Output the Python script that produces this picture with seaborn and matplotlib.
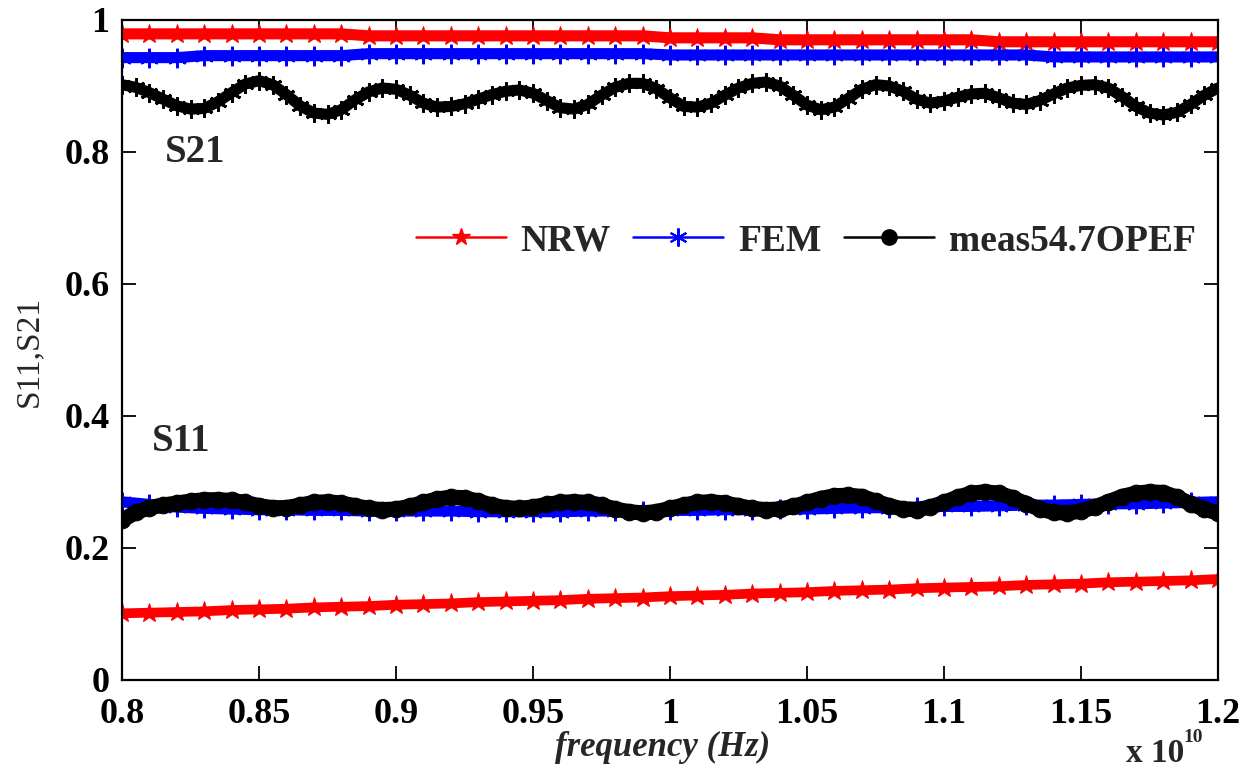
import numpy as np
import matplotlib
matplotlib.use("Agg")
import matplotlib.pyplot as plt
import seaborn as sns
from matplotlib.lines import Line2D

# Frequency sweeps, in units of 1e10 Hz
freq_fine = np.linspace(0.80, 1.20, 81)
freq_coarse = np.linspace(0.80, 1.20, 41)

# Transmission (S21)
s21_nrw = [0.979, 0.979, 0.979, 0.979, 0.979, 0.979, 0.979, 0.979, 0.979, 0.976,
           0.976, 0.976, 0.976, 0.976, 0.976, 0.976, 0.976, 0.976, 0.976, 0.976,
           0.973, 0.973, 0.973, 0.973, 0.970, 0.970, 0.970, 0.970, 0.970, 0.970,
           0.970, 0.970, 0.967, 0.967, 0.967, 0.967, 0.967, 0.967, 0.967, 0.967,
           0.967]
s21_fem = [0.943, 0.943, 0.943, 0.946, 0.946, 0.946, 0.946, 0.946, 0.946, 0.949,
           0.949, 0.949, 0.949, 0.949, 0.949, 0.949, 0.949, 0.949, 0.949, 0.949,
           0.947, 0.947, 0.947, 0.947, 0.947, 0.947, 0.947, 0.947, 0.947, 0.947,
           0.947, 0.947, 0.947, 0.947, 0.944, 0.944, 0.944, 0.944, 0.944, 0.944,
           0.944]
s21_meas = [0.902, 0.898, 0.890, 0.880, 0.870, 0.865, 0.866, 0.876, 0.890, 0.903,
            0.908, 0.902, 0.887, 0.870, 0.859, 0.857, 0.864, 0.879, 0.891, 0.897,
            0.895, 0.886, 0.874, 0.868, 0.869, 0.873, 0.880, 0.887, 0.892, 0.894,
            0.889, 0.878, 0.867, 0.865, 0.872, 0.886, 0.898, 0.904, 0.904, 0.896,
            0.882, 0.869, 0.868, 0.874, 0.886, 0.897, 0.904, 0.906, 0.900, 0.886,
            0.871, 0.864, 0.868, 0.881, 0.895, 0.902, 0.900, 0.892, 0.880, 0.874,
            0.877, 0.883, 0.888, 0.889, 0.882, 0.874, 0.872, 0.878, 0.888, 0.897,
            0.901, 0.902, 0.897, 0.884, 0.869, 0.859, 0.856, 0.860, 0.872, 0.886,
            0.897]

# Reflection (S11)
s11_nrw = [0.101, 0.102, 0.103, 0.104, 0.106, 0.107, 0.108, 0.110, 0.111, 0.112,
           0.114, 0.115, 0.116, 0.118, 0.119, 0.120, 0.121, 0.123, 0.124, 0.125,
           0.127, 0.128, 0.129, 0.131, 0.132, 0.133, 0.135, 0.136, 0.137, 0.139,
           0.140, 0.141, 0.142, 0.144, 0.145, 0.146, 0.148, 0.149, 0.150, 0.151,
           0.153]
s11_fem = [0.270, 0.266, 0.262, 0.260, 0.259, 0.258, 0.258, 0.257, 0.257, 0.256,
           0.256, 0.256, 0.256, 0.255, 0.255, 0.255, 0.255, 0.256, 0.256, 0.256,
           0.257, 0.257, 0.258, 0.258, 0.259, 0.259, 0.260, 0.261, 0.261, 0.262,
           0.263, 0.263, 0.264, 0.265, 0.265, 0.266, 0.267, 0.267, 0.268, 0.269,
           0.270]
s11_meas = [0.242, 0.254, 0.261, 0.265, 0.268, 0.271, 0.273, 0.273, 0.272, 0.269,
            0.264, 0.261, 0.261, 0.265, 0.269, 0.270, 0.268, 0.264, 0.260, 0.258,
            0.259, 0.263, 0.269, 0.274, 0.277, 0.276, 0.271, 0.265, 0.261, 0.260,
            0.262, 0.266, 0.269, 0.270, 0.269, 0.265, 0.259, 0.255, 0.253, 0.255,
            0.260, 0.265, 0.269, 0.270, 0.268, 0.264, 0.260, 0.258, 0.259, 0.263,
            0.269, 0.275, 0.279, 0.280, 0.278, 0.271, 0.264, 0.259, 0.258, 0.262,
            0.269, 0.277, 0.283, 0.285, 0.283, 0.276, 0.267, 0.259, 0.254, 0.253,
            0.256, 0.262, 0.270, 0.278, 0.283, 0.285, 0.284, 0.277, 0.267, 0.259,
            0.253]

series_labels = ["NRW", "FEM", "meas54.7OPEF"]
xtick_values = [0.80, 0.85, 0.90, 0.95, 1.00, 1.05, 1.10, 1.15, 1.20]
xtick_labels = ["0.8", "0.85", "0.9", "0.95", "1", "1.05", "1.1", "1.15", "1.2"]
ytick_values = [0.0, 0.2, 0.4, 0.6, 0.8, 1.0]
ytick_labels = ["0", "0.2", "0.4", "0.6", "0.8", "1"]

sns.set_theme(style="ticks")
plt.rcParams["font.family"] = ["Liberation Serif", "DejaVu Serif"]

fig = plt.figure(figsize=(12.41, 7.72), dpi=100)
ax = fig.add_axes([122 / 1241, 1 - 680 / 772, 1096 / 1241, 660 / 772])

ASTER = (6, 2, 0)
common = dict(ax=ax, estimator=None, sort=False, legend=False)

sns.lineplot(x=freq_coarse, y=s21_nrw, color="#ff0000", lw=8, marker="*",
             markersize=15, markeredgecolor="#ff0000", **common)
sns.lineplot(x=freq_coarse, y=s21_fem, color="#0000ff", lw=8, marker=ASTER,
             markersize=14, markeredgewidth=2, markeredgecolor="#0000ff", **common)
sns.lineplot(x=freq_fine, y=s21_meas, color="black", lw=8, marker=ASTER,
             markersize=13, markeredgewidth=2, markeredgecolor="black", **common)

sns.lineplot(x=freq_coarse, y=s11_fem, color="#0000ff", lw=8, marker=ASTER,
             markersize=14, markeredgewidth=2, markeredgecolor="#0000ff", **common)
sns.lineplot(x=freq_fine, y=s11_meas, color="black", lw=11, marker="o",
             markersize=12, markeredgecolor="black", **common)
sns.lineplot(x=freq_coarse, y=s11_nrw, color="#ff0000", lw=7, marker="*",
             markersize=14, markeredgecolor="#ff0000", **common)

ax.set_xlim(0.8, 1.2)
ax.set_ylim(0.0, 1.0)
ax.set_xticks(xtick_values)
ax.set_xticklabels(xtick_labels)
ax.set_yticks(ytick_values)
ax.set_yticklabels(ytick_labels)
ax.tick_params(direction="in", length=10, width=1.3, top=True, right=True,
               labelsize=26, colors="black")
ax.tick_params(axis="x", pad=13)
ax.tick_params(axis="y", pad=9)
for lab in ax.get_xticklabels() + ax.get_yticklabels():
    lab.set_fontweight("bold")
for sp in ax.spines.values():
    sp.set_linewidth(1.6)
    sp.set_color("black")
    sp.set_visible(True)

ax.set_xlabel("frequency (Hz)", fontsize=25, style="italic", fontweight="bold")
ax.xaxis.label.set_va("center")
ax.xaxis.set_label_coords(0.493, -0.102)
ax.set_ylabel("S11,S21", fontsize=24)
ax.yaxis.label.set_va("center")
ax.yaxis.set_label_coords(-0.085, 0.497)

ax.text(0.8157, 0.80, "S21", fontsize=28, fontweight="bold", va="center", ha="left")
ax.text(0.8110, 0.361, "S11", fontsize=28, fontweight="bold", va="center", ha="left")

fig.text(1126 / 1241, 1 - 753 / 772, "x 10", fontsize=24, fontweight="bold",
         ha="left", va="center")
fig.text(1183 / 1241, 1 - 738 / 772, "10", fontsize=14, fontweight="bold",
         ha="left", va="center")

handles = [
    Line2D([], [], color="#ff0000", lw=1.8, marker="*", markersize=13),
    Line2D([], [], color="#0000ff", lw=1.8, marker=ASTER, markersize=13, markeredgewidth=1.5),
    Line2D([], [], color="black", lw=1.8, marker="o", markersize=11),
]
ax.legend(handles, series_labels, ncol=3, frameon=False, loc="center",
          bbox_to_anchor=(0.624, 0.665), prop={"weight": "bold", "size": 27},
          handlelength=2.4, handletextpad=0.4, columnspacing=0.6)

fig.savefig("out.png", dpi=100, facecolor="white")
